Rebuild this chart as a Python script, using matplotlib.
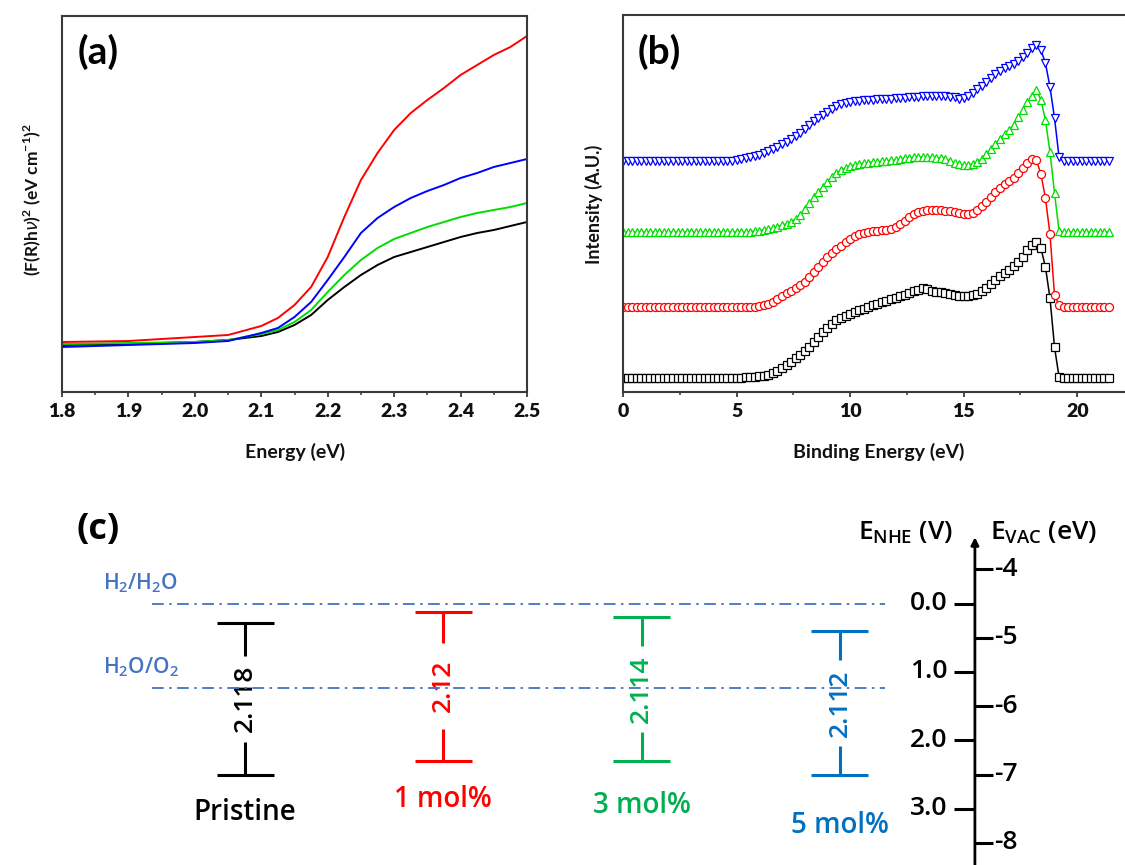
import numpy as np
import matplotlib.pyplot as plt
from matplotlib.ticker import MultipleLocator, FormatStrFormatter

plt.rcParams['font.family'] = ['Lato', 'DejaVu Sans']
plt.rcParams['mathtext.fontset'] = 'custom'
plt.rcParams['mathtext.rm'] = 'Open Sans:semibold'
plt.rcParams['mathtext.bf'] = 'Lato:bold'

# ---- (a) Kubelka-Munk plot, arbitrary units ----
energy_a = [1.80, 1.90, 2.00, 2.05, 2.10, 2.125, 2.15, 2.175, 2.20, 2.225, 2.25,
            2.275, 2.30, 2.325, 2.35, 2.375, 2.40, 2.425, 2.45, 2.475, 2.50]
km_black = [47, 48, 50, 52, 56, 60, 67, 77, 92, 105, 117, 127, 135, 140, 145, 150, 155, 159, 162, 166, 170]
km_red = [50, 51, 55, 57, 66, 74, 87, 105, 135, 175, 212, 239, 262, 279, 292, 304, 317, 327, 337, 345, 356]
km_green = [48, 49, 50, 52, 58, 62, 70, 82, 100, 117, 132, 144, 153, 159, 165, 170, 175, 179, 182, 185, 189]
km_blue = [45, 47, 49, 51, 59, 64, 75, 90, 112, 135, 159, 174, 185, 194, 201, 207, 214, 219, 225, 229, 233]

# ---- (b) UPS spectra, offset, arbitrary units ----
energy_b = np.round(np.arange(108) * 0.2, 1)  # 0.0 ... 21.4 eV
ups_black = [14] * 25 + [
    14.5, 14.5, 15, 15, 15.5, 16, 16.5, 17, 19, 21, 24, 27, 30, 34, 37, 41, 45, 50,
    55, 60, 64, 68, 72, 74, 76, 78, 80, 82, 83, 85, 87, 88, 90, 91, 93, 94, 96, 97,
    99, 101, 102, 104, 103, 101, 100, 100, 99, 98, 97, 96, 96, 96, 97, 98, 101, 104,
    108, 112, 116, 119, 122, 126, 130, 135, 142, 147, 150, 144, 125, 94, 45, 15] + [14] * 11
ups_red = [85] * 29 + [
    85.5, 86, 87, 88, 90, 93, 96, 99, 101, 104, 107, 110, 115, 120, 125, 130, 135, 139,
    143, 146, 150, 153, 156, 158, 159, 160, 161, 161, 162, 162, 163, 165, 168, 171,
    175, 178, 180, 181, 182, 182, 182, 182, 181, 181, 180, 179, 178, 178, 179, 182,
    186, 190, 195, 200, 204, 208, 211, 214, 219, 224, 229, 233, 232, 218, 194, 158,
    97, 87] + [85] * 11
ups_green = [160] * 28 + [
    160.5, 161, 161.5, 162, 163, 164, 165, 167, 168, 170, 173, 177, 183, 189, 195, 200,
    205, 210, 215, 219, 222, 224, 226, 227, 228, 229, 229, 230, 230, 231, 231, 232,
    232, 233, 234, 234, 235, 235, 235, 235, 235, 234, 234, 233, 231, 229, 228, 227,
    227, 228, 230, 233, 238, 243, 248, 253, 258, 262, 267, 275, 282, 290, 296, 302,
    292, 272, 240, 199, 161] + [160] * 11
ups_blue = [231] * 24 + [
    231.5, 232, 233, 234, 235, 236, 237, 239, 241, 243, 245, 248, 250, 253, 256, 259,
    263, 267, 271, 274, 277, 280, 283, 286, 288, 289, 290, 291, 291, 292, 292, 292,
    293, 293, 293, 293, 294, 294, 294, 295, 295, 295, 296, 296, 296, 296, 296, 296,
    295, 295, 293, 294, 296, 299, 303, 306, 310, 314, 318, 321, 324, 326, 328, 331,
    335, 339, 344, 347, 342, 329, 305, 274, 235] + [231] * 11

# ---- (c) band positions vs NHE (V) ----
samples = ["Pristine", "1 mol%", "3 mol%", "5 mol%"]
band_gaps = ["2.118", "2.12", "2.114", "2.112"]
cb_edge = [0.28, 0.12, 0.20, 0.40]
vb_edge = [2.50, 2.30, 2.30, 2.51]
redox_levels = [0.0, 1.23]
redox_labels = ["H$_2$/H$_2$O", "H$_2$O/O$_2$"]
nhe_ticks = [0.0, 1.0, 2.0, 3.0]
vac_ticks = [-4, -5, -6, -7, -8]

c_colors = ["black", "#ff0000", "#00b050", "#0070c0"]
line_colors = ["black", "#ff0000", "#00dd00", "#0000ff"]
redox_color = "#4472c4"

W, H = 1125, 865
fig = plt.figure(figsize=(W / 100, H / 100), dpi=100)


def px_axes(left, top, right, bottom):
    return fig.add_axes([left / W, 1 - bottom / H, (right - left) / W, (bottom - top) / H])


def style_panel(ax):
    for sp in ax.spines.values():
        sp.set_linewidth(1.5)
        sp.set_color('#3a3a3a')
    ax.set_yticks([])
    ax.tick_params(axis='x', which='major', direction='out', length=3.6, width=1.3,
                   labelsize=14, pad=4, colors='#3a3a3a', labelcolor='#111111')
    ax.tick_params(axis='x', which='minor', direction='out', length=2.2, width=1.1,
                   colors='#3a3a3a')
    for lbl in ax.get_xticklabels():
        lbl.set_fontweight('heavy')


# panel (a)
ax_a = px_axes(62, 16, 527, 392)
for ys, c in zip([km_black, km_green, km_blue, km_red], [line_colors[0], line_colors[2], line_colors[3], line_colors[1]]):
    ax_a.plot(energy_a, ys, color=c, lw=1.4)
ax_a.set_xlim(1.8, 2.5)
ax_a.set_ylim(0, 376)
ax_a.xaxis.set_major_locator(MultipleLocator(0.1))
ax_a.xaxis.set_minor_locator(MultipleLocator(0.05))
ax_a.xaxis.set_major_formatter(FormatStrFormatter('%.1f'))
style_panel(ax_a)
ax_a.text(0.034, 0.904, "(a)", transform=ax_a.transAxes, fontsize=28, fontweight='bold',
          ha='left', va='center')
fig.text(295 / W, 1 - 452 / H, "Energy (eV)", ha='center', va='center', fontsize=14,
         fontweight='bold', color='#111111')
fig.text(32 / W, 1 - 200 / H, r"(F(R)h$\nu$)$^{\mathbf{2}}$ (eV cm$^{\mathbf{-1}}$)$^{\mathbf{2}}$",
         rotation=90, ha='center', va='center', fontsize=12.5, fontweight='bold', color='#111111')

# panel (b)
ax_b = px_axes(623, 15, 1134, 392)
markers = ['s', 'o', '^', 'v']
for ys, c, m in zip([ups_black, ups_red, ups_green, ups_blue], line_colors, markers):
    ax_b.plot(energy_b, ys, color=c, lw=1.1, marker=m, markersize=5.8,
              markerfacecolor='white', markeredgecolor=c, markeredgewidth=0.9)
ax_b.set_xlim(0, 22.5)
ax_b.set_ylim(0, 377)
ax_b.xaxis.set_major_locator(MultipleLocator(5))
ax_b.xaxis.set_minor_locator(MultipleLocator(2.5))
style_panel(ax_b)
ax_b.text(0.029, 0.902, "(b)", transform=ax_b.transAxes, fontsize=28, fontweight='bold',
          ha='left', va='center')
fig.text(879 / W, 1 - 452 / H, "Binding Energy (eV)", ha='center', va='center', fontsize=14,
         fontweight='bold', color='#111111')
fig.text(594 / W, 1 - 204 / H, "Intensity (A.U.)", rotation=90, ha='center', va='center',
         fontsize=13, fontweight='bold', color='#111111')

# panel (c)
ax_c = px_axes(0, 480, 1125, 865)
ax_c.set_xlim(-1.236, 4.438)
ax_c.set_ylim(3.823, -1.806)
ax_c.axis('off')
ax_c.patch.set_alpha(0)

cfont = dict(family=['Open Sans', 'DejaVu Sans'], fontweight='semibold')
x_axis = 3.681
cap = 0.144
gap = 0.63
label_y = [3.05, 2.86, 2.95, 3.24]

ax_c.hlines(redox_levels, -0.47, 3.23, colors=redox_color, lw=1.3,
            linestyles=(0, (6.5, 3, 1.4, 3)), zorder=4)
for lvl, lab in zip(redox_levels, redox_labels):
    ax_c.text(-0.716, lvl - 0.30, lab, color=redox_color, fontsize=15, ha='left',
              va='center', **cfont)

for i, (cb, vb, eg, name, c) in enumerate(zip(cb_edge, vb_edge, band_gaps, samples, c_colors)):
    mid = (cb + vb) / 2
    ax_c.hlines([cb, vb], i - cap, i + cap, colors=c, lw=2.2)
    ax_c.vlines(i, cb, mid - gap, colors=c, lw=2.2)
    ax_c.vlines(i, mid + gap, vb, colors=c, lw=2.2)
    ax_c.text(i, mid, eg, rotation=90, ha='center', va='center', color=c, fontsize=19, **cfont)
    ax_c.text(i, label_y[i], name, ha='center', va='center', color=c, fontsize=20, **cfont)

ax_c.annotate('', xy=(x_axis, -0.97), xytext=(x_axis, 3.95),
              arrowprops=dict(arrowstyle='-|>', color='k', lw=2, mutation_scale=11,
                              shrinkA=0, shrinkB=0))
ax_c.hlines(nhe_ticks, x_axis - 0.106, x_axis, colors='k', lw=2.2)
for t in nhe_ticks:
    ax_c.text(x_axis - 0.14, t, f"{t:.1f}", ha='right', va='center', fontsize=19, **cfont)
vac_pos = [-4.5 - v for v in vac_ticks]
ax_c.hlines(vac_pos, x_axis, x_axis + 0.091, colors='k', lw=2.2)
for v, p in zip(vac_ticks, vac_pos):
    ax_c.text(x_axis + 0.095, p, f"-{abs(v)}", ha='left', va='center', fontsize=19, **cfont)

ax_c.text(3.33, -1.04, r"E$_{\rm NHE}$ (V)", ha='center', va='center', fontsize=19, **cfont)
ax_c.text(4.03, -1.04, r"E$_{\rm VAC}$ (eV)", ha='center', va='center', fontsize=19, **cfont)
ax_c.text(-0.85, -1.075, "(c)", ha='left', va='center', fontsize=26, fontweight='bold',
          family=['Open Sans', 'DejaVu Sans'])

fig.savefig("out.png", dpi=100, facecolor='white')
